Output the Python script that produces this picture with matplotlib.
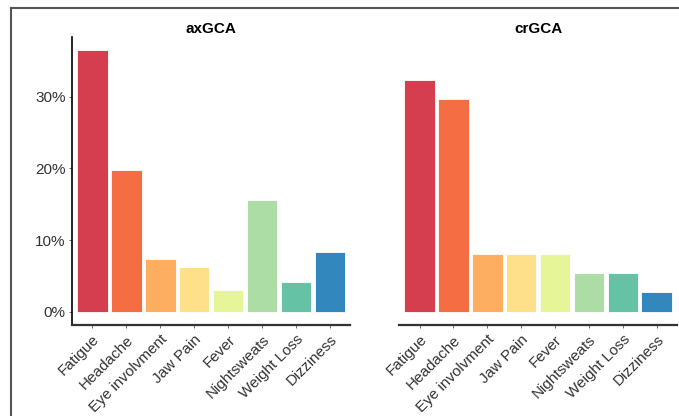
import matplotlib.pyplot as plt
from matplotlib.lines import Line2D
from matplotlib.ticker import PercentFormatter

plt.rcParams['font.family'] = ['Liberation Sans', 'DejaVu Sans']

# Symptoms and share of patients per group (%)
sintomas = ['Fatigue', 'Headache', 'Eye involvment', 'Jaw Pain', 'Fever',
            'Nightsweats', 'Weight Loss', 'Dizziness']
ax_gca = [36.5, 19.8, 7.3, 6.3, 3.1, 15.6, 4.2, 8.3]
cr_gca = [32.4, 29.7, 8.1, 8.1, 8.1, 5.4, 5.4, 2.7]
grupos = ['axGCA', 'crGCA']
colores = ['#D53E4F', '#F46D43', '#FDAE61', '#FEE08B', '#E6F598',
           '#ABDDA4', '#66C2A5', '#3288BD']

fig = plt.figure(figsize=(6.79, 4.16), dpi=100)
ax1 = fig.add_axes([0.106, 0.219, 0.410, 0.692])
ax2 = fig.add_axes([0.588, 0.219, 0.409, 0.692], sharey=ax1)

ymax = max(max(ax_gca), max(cr_gca))
x = range(len(sintomas))
for ax, valores, titulo in zip([ax1, ax2], [ax_gca, cr_gca], grupos):
    ax.bar(x, valores, width=0.9, color=colores, edgecolor='white', linewidth=0.6)
    ax.set_xlim(-0.6, len(sintomas) - 0.4)
    ax.set_ylim(-0.05 * ymax, 1.05 * ymax)
    ax.set_xticks(list(x))
    ax.set_xticklabels(sintomas, rotation=45, ha='right', va='top',
                       rotation_mode='anchor', fontsize=11, color='#333333')
    ax.set_title(titulo, fontsize=11, fontweight='bold', pad=3)
    for s in ['top', 'right']:
        ax.spines[s].set_visible(False)
    ax.spines['bottom'].set_linewidth(1.6)
    ax.spines['bottom'].set_color('#333333')
    ax.tick_params(axis='x', length=2.5, width=0.6, color='#555555', pad=3)
    ax.tick_params(axis='y', length=2.5, width=0.6, color='#555555', pad=2,
                   labelsize=11, labelcolor='#333333')

ax1.spines['left'].set_linewidth(1.2)
ax1.spines['left'].set_color('black')
ax1.set_yticks([0, 10, 20, 30])
ax1.yaxis.set_major_formatter(PercentFormatter(decimals=0))
ax2.spines['left'].set_visible(False)
ax2.tick_params(axis='y', left=False, labelleft=False)

# marco exterior (solo arriba e izquierda)
fig.add_artist(Line2D([11 / 679, 1.0], [1 - 8 / 416, 1 - 8 / 416],
                      transform=fig.transFigure, color='#555555', linewidth=1.5))
fig.add_artist(Line2D([11 / 679, 11 / 679], [0.0, 1 - 8 / 416],
                      transform=fig.transFigure, color='#555555', linewidth=1.5))

fig.savefig('out.png', dpi=100)
